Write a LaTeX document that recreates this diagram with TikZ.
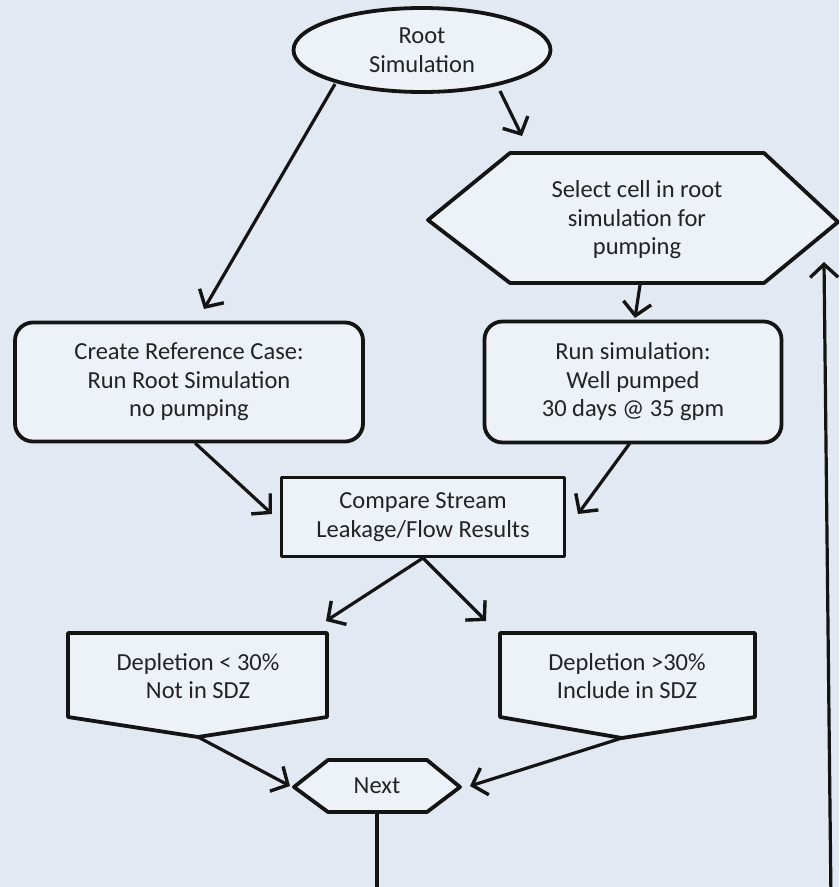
\documentclass[tikz,border=0pt]{standalone}
\usepackage{fontspec}
\setmainfont{Carlito}
\usetikzlibrary{arrows.meta,shapes.geometric,calc}
\definecolor{bg}{RGB}{226,233,243}
\definecolor{fillc}{RGB}{237,241,248}
\definecolor{ink}{RGB}{20,20,20}
\definecolor{txt}{RGB}{35,35,35}
\begin{document}
\begin{tikzpicture}[x=1pt,y=-1pt,
  outline/.style={draw=ink,line width=3.8pt,fill=fillc,line join=round},
  lbl/.style={text=txt,align=center,font=\fontsize{24.5}{28.5}\selectfont},
  rbox/.style={outline,lbl,rectangle,rounded corners=18pt},
  conn/.style={draw=ink,line width=3.2pt,-{Straight Barb[length=13pt,width=28pt,line width=3.4pt]}},
  plain/.style={draw=ink,line width=3.2pt}]
\clip (0,0) rectangle (839,887);
\fill[bg] (0,0) rectangle (839,887);
% root ellipse
\node[outline,lbl,ellipse,minimum width=257,minimum height=84,inner sep=0pt] (root) at (422,50) {Root\\Simulation};
% select hexagon
\draw[outline] (510,153) -- (764,153) -- (838,222) -- (764,283) -- (510,283) -- (428,220) -- cycle;
\node[lbl] (sel) at (637,220) {Select cell in root\\simulation for\\pumping};
% rounded boxes
\node[rbox,minimum width=348,minimum height=119] (ref) at (189,382) {Create Reference Case:\\Run Root Simulation\\no pumping};
\node[rbox,minimum width=297,minimum height=121] (run) at (633,382) {Run simulation:\\Well pumped\\30 days @ 35 gpm};
% compare
\node[outline,lbl,rectangle,minimum width=283,minimum height=79] (cmp) at (423,517) {Compare Stream\\Leakage/Flow Results};
% pentagons
\draw[outline] (68,633) -- (327,633) -- (327,717) -- (198,737) -- (68,717) -- cycle;
\node[lbl] (lo) at (198,676) {Depletion < 30\%\\Not in SDZ};
\draw[outline] (500,633) -- (755,633) -- (755,717) -- (622,738) -- (500,717) -- cycle;
\node[lbl] (hi) at (627,676) {Depletion >30\%\\Include in SDZ};
% next hexagon
\draw[outline] (328,760) -- (427,760) -- (460,787) -- (427,812) -- (328,812) -- (294,787) -- cycle;
\node[lbl] (next) at (377,786) {Next};
% connector end points
\coordinate (rootL) at (335,84);
\coordinate (rootR) at (500,91);
\coordinate (refT) at (204,309);
\coordinate (selT) at (522,136);
\coordinate (selB) at (640,285);
\coordinate (runT) at (635,318);
\coordinate (refB) at (195,443);
\coordinate (runB) at (630,443);
\coordinate (cmpL) at (272,514);
\coordinate (cmpR) at (578,514);
\coordinate (cmpB) at (423,558);
\coordinate (loT) at (326,621);
\coordinate (hiT) at (486,621);
\coordinate (loP) at (198,737);
\coordinate (hiP) at (622,738);
\coordinate (nextL) at (290,786);
\coordinate (nextR) at (470,786);
\coordinate (nextB) at (377,812);
\coordinate (loopA) at (377,900);
\coordinate (loopB) at (831,900);
\coordinate (selE) at (824,262);
% connectors
\draw[conn] (rootL) -- (refT);
\draw[conn] (rootR) -- (selT);
\draw[conn] (selB) -- (runT);
\draw[conn] (refB) -- (cmpL);
\draw[conn] (runB) -- (cmpR);
\draw[conn] (cmpB) -- (loT);
\draw[conn] (cmpB) -- (hiT);
\draw[conn] (loP) -- (nextL);
\draw[conn] (hiP) -- (nextR);
\draw[plain] (nextB) -- (loopA) -- (loopB);
\draw[conn] (loopB) -- (selE);
\end{tikzpicture}
\end{document}
